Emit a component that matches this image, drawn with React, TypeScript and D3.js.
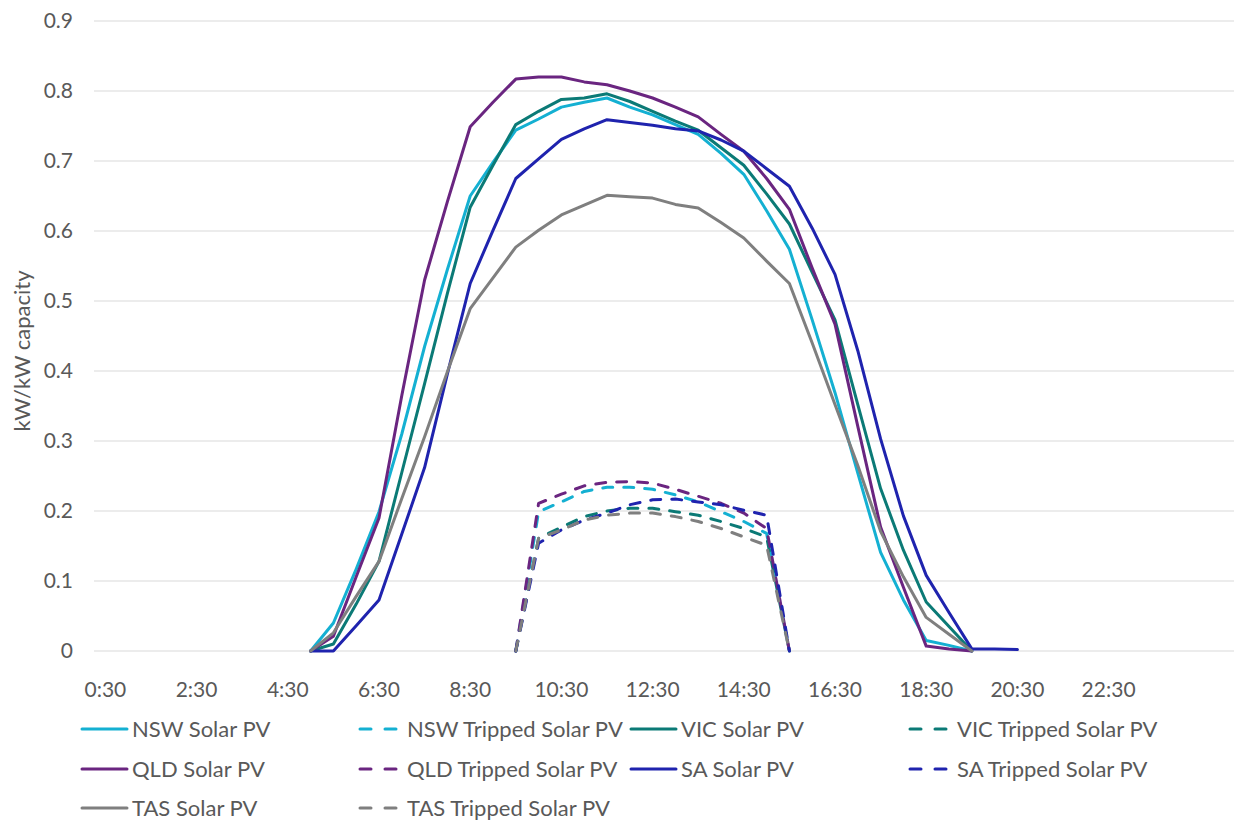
import React from "react";
import * as d3 from "d3";

// Half-hourly time slots across the day, plus two trailing empty slots on the axis
const times: string[] = [];
for (let m = 30; m <= 24 * 60; m += 30) {
  times.push(`${Math.floor(m / 60)}:${String(m % 60).padStart(2, "0")}`);
}
const slots = [...times, "", ""];

const tickLabels = ["0:30", "2:30", "4:30", "6:30", "8:30", "10:30", "12:30", "14:30", "16:30", "18:30", "20:30", "22:30"];
const yTicks = [0, 0.1, 0.2, 0.3, 0.4, 0.5, 0.6, 0.7, 0.8, 0.9];

// Solar PV output (kW per kW of capacity), starting at 5:00
const solarStart = "5:00";
const nswSolar = [0, 0.04, 0.117, 0.199, 0.31, 0.435, 0.545, 0.65, 0.698, 0.744, 0.76, 0.777, 0.784, 0.79, 0.777, 0.766, 0.752, 0.738, 0.711, 0.681, 0.629, 0.574, 0.473, 0.369, 0.254, 0.141, 0.073, 0.015, 0.008, 0];
const vicSolar = [0, 0.01, 0.067, 0.128, 0.255, 0.382, 0.511, 0.634, 0.694, 0.752, 0.771, 0.788, 0.79, 0.796, 0.785, 0.771, 0.757, 0.744, 0.719, 0.694, 0.653, 0.61, 0.541, 0.473, 0.352, 0.232, 0.144, 0.07, 0.035, 0];
const qldSolar = [0, 0.021, 0.106, 0.19, 0.365, 0.53, 0.642, 0.749, 0.784, 0.817, 0.82, 0.82, 0.813, 0.809, 0.8, 0.79, 0.777, 0.763, 0.738, 0.714, 0.675, 0.631, 0.547, 0.467, 0.321, 0.177, 0.091, 0.007, 0.003, 0];
const saSolar = [0, 0, 0.036, 0.073, 0.167, 0.262, 0.396, 0.525, 0.601, 0.675, 0.703, 0.731, 0.746, 0.759, 0.755, 0.751, 0.746, 0.743, 0.73, 0.714, 0.689, 0.664, 0.604, 0.538, 0.429, 0.303, 0.193, 0.108, 0.055, 0.003, 0.003, 0.002];
const tasSolar = [0, 0.026, 0.078, 0.128, 0.218, 0.306, 0.399, 0.489, 0.533, 0.577, 0.601, 0.623, 0.637, 0.651, 0.649, 0.647, 0.638, 0.633, 0.612, 0.59, 0.557, 0.525, 0.44, 0.352, 0.265, 0.171, 0.106, 0.048, 0.024, 0];

// Tripped solar PV, starting at 9:30
const trippedStart = "9:30";
const nswTripped = [0, 0.199, 0.213, 0.228, 0.234, 0.234, 0.231, 0.223, 0.213, 0.199, 0.185, 0.168, 0];
const vicTripped = [0, 0.161, 0.177, 0.192, 0.2, 0.204, 0.204, 0.199, 0.194, 0.185, 0.175, 0.163, 0];
const qldTripped = [0, 0.211, 0.224, 0.236, 0.241, 0.242, 0.24, 0.231, 0.221, 0.211, 0.197, 0.175, 0];
const saTripped = [0, 0.154, 0.173, 0.187, 0.197, 0.209, 0.216, 0.217, 0.213, 0.209, 0.201, 0.194, 0];
const tasTripped = [0, 0.161, 0.173, 0.187, 0.194, 0.197, 0.197, 0.192, 0.185, 0.175, 0.163, 0.151, 0];

const COLORS = {
  NSW: "#14B0D2",
  VIC: "#0B7A76",
  QLD: "#6A2580",
  SA: "#1F23AE",
  TAS: "#7F7F7F",
};

type Series = { name: string; color: string; dashed: boolean; start: string; values: number[] };

const series: Series[] = [
  { name: "NSW Solar PV", color: COLORS.NSW, dashed: false, start: solarStart, values: nswSolar },
  { name: "NSW Tripped Solar PV", color: COLORS.NSW, dashed: true, start: trippedStart, values: nswTripped },
  { name: "VIC Solar PV", color: COLORS.VIC, dashed: false, start: solarStart, values: vicSolar },
  { name: "VIC Tripped Solar PV", color: COLORS.VIC, dashed: true, start: trippedStart, values: vicTripped },
  { name: "QLD Solar PV", color: COLORS.QLD, dashed: false, start: solarStart, values: qldSolar },
  { name: "QLD Tripped Solar PV", color: COLORS.QLD, dashed: true, start: trippedStart, values: qldTripped },
  { name: "SA Solar PV", color: COLORS.SA, dashed: false, start: solarStart, values: saSolar },
  { name: "SA Tripped Solar PV", color: COLORS.SA, dashed: true, start: trippedStart, values: saTripped },
  { name: "TAS Solar PV", color: COLORS.TAS, dashed: false, start: solarStart, values: tasSolar },
  { name: "TAS Tripped Solar PV", color: COLORS.TAS, dashed: true, start: trippedStart, values: tasTripped },
];

// Draw order: solid lines first, then tripped dashes on top
const drawOrder = [
  "NSW Solar PV", "VIC Solar PV", "QLD Solar PV", "SA Solar PV", "TAS Solar PV",
  "NSW Tripped Solar PV", "VIC Tripped Solar PV", "QLD Tripped Solar PV", "SA Tripped Solar PV", "TAS Tripped Solar PV",
];

const W = 1235;
const H = 822;
const plot = { left: 94, right: 1234, top: 21, bottom: 651 };
const FONT = "Lato, 'Open Sans', sans-serif";
const TEXT = "#595959";
const GRID = "#D9D9D9";
const DASH = "10 11";

export default function App() {
  const x = d3.scaleBand<number>().domain(d3.range(slots.length)).range([plot.left, plot.right]);
  const cx = (i: number) => (x(i) ?? 0) + x.bandwidth() / 2;
  const y = d3.scaleLinear().domain([0, 0.9]).range([plot.bottom, plot.top]);

  const line = d3
    .line<[number, number]>()
    .x((d) => cx(d[0]))
    .y((d) => y(d[1]));

  const pathFor = (s: Series) => {
    const s0 = times.indexOf(s.start);
    return line(s.values.map((v, k) => [s0 + k, v] as [number, number])) ?? "";
  };

  const legendCols = [82, 357, 631, 907];
  const legendRows = [729, 769, 808];

  return (
    <svg width={W} height={H} style={{ position: "absolute", left: 0, top: 0, background: "#fff" }} fontFamily={FONT}>
      {/* horizontal gridlines */}
      {yTicks.map((t) => (
        <line key={t} x1={plot.left} x2={plot.right} y1={y(t)} y2={y(t)} stroke={GRID} strokeWidth={1.2} />
      ))}

      {/* y tick labels */}
      {yTicks.map((t) => (
        <text key={t} x={73} y={y(t)} dy="0.35em" textAnchor="end" fontSize={21} fill={TEXT}>
          {t === 0 ? "0" : d3.format(".1f")(t)}
        </text>
      ))}

      {/* y axis title */}
      <text
        transform={`translate(22, ${(plot.top + plot.bottom) / 2 + 15}) rotate(-90)`}
        textAnchor="middle"
        dy="0.35em"
        fontSize={22}
        fill={TEXT}
      >
        kW/kW capacity
      </text>

      {/* x tick labels */}
      {tickLabels.map((lab) => (
        <text key={lab} x={cx(times.indexOf(lab))} y={690} dy="0.35em" textAnchor="middle" fontSize={21} fill={TEXT}>
          {lab}
        </text>
      ))}

      {/* series lines */}
      {drawOrder.map((name) => {
        const s = series.find((d) => d.name === name)!;
        return (
          <path
            key={name}
            d={pathFor(s)}
            fill="none"
            stroke={s.color}
            strokeWidth={3}
            strokeLinejoin="round"
            strokeLinecap="round"
            strokeDasharray={s.dashed ? DASH : undefined}
          />
        );
      })}

      {/* legend */}
      {series.map((s, k) => {
        const col = k % 4;
        const row = Math.floor(k / 4);
        const lx = legendCols[col];
        const ly = legendRows[row];
        return (
          <g key={s.name}>
            {s.dashed ? (
              <line
                x1={lx + 3}
                x2={lx + 40}
                y1={ly}
                y2={ly}
                stroke={s.color}
                strokeWidth={3}
                strokeLinecap="round"
                strokeDasharray="11 14"
              />
            ) : (
              <line x1={lx} x2={lx + 45} y1={ly} y2={ly} stroke={s.color} strokeWidth={3} strokeLinecap="round" />
            )}
            <text x={lx + 50} y={ly} dy="0.35em" fontSize={22} fill={TEXT}>
              {s.name}
            </text>
          </g>
        );
      })}
    </svg>
  );
}
